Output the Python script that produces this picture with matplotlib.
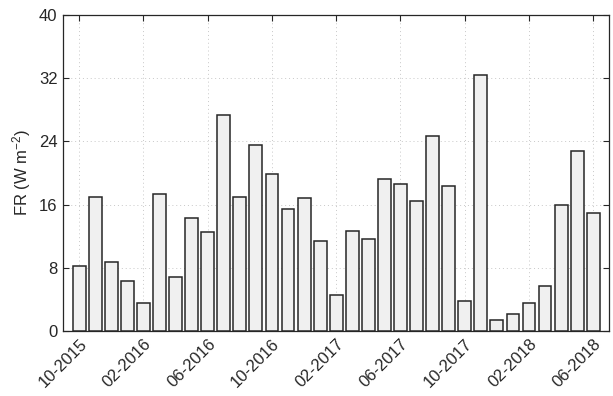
import numpy as np
import matplotlib.pyplot as plt

plt.rcParams['font.family'] = ['Liberation Sans', 'DejaVu Sans']
plt.rcParams['mathtext.fontset'] = 'custom'
plt.rcParams['mathtext.rm'] = 'Liberation Sans'

## the data (monthly, 10-2015 .. 06-2018)
fr_values = [8.2, 17.0, 8.8, 6.3, 3.5, 17.4, 6.8, 14.3, 12.5, 27.3,
             17.0, 23.5, 19.9, 15.4, 16.9, 11.4, 4.6, 12.7, 11.6, 19.2,
             18.6, 16.5, 24.7, 18.4, 3.8, 32.4, 1.35, 2.15, 3.5, 5.7,
             16.0, 22.8, 14.9]
tick_labels = ['10-2015', '02-2016', '06-2016', '10-2016', '02-2017',
               '06-2017', '10-2017', '02-2018', '06-2018']
tick_step = 4   # one label every 4 months

ind = np.arange(len(fr_values))

fig = plt.figure(figsize=(6.13, 3.96), dpi=100)
ax = fig.add_axes([0.103, 0.164, 0.891, 0.798])

ax.bar(ind, fr_values, 0.8, color='#f0f0f0', edgecolor='#262626',
       linewidth=1.1, zorder=3)

# axes and labels
ax.set_xlim(-1, len(ind))
ax.set_ylim(0, 40)
ax.set_yticks(np.arange(0, 41, 8))
ax.set_xticks(ind[::tick_step])
ax.set_xticklabels(tick_labels, rotation=45, ha='right',
                   rotation_mode='anchor')
ax.set_ylabel('FR (W m$\\mathregular{^{-2}}$)', fontsize=12, color='#262626')

ax.tick_params(direction='in', length=4, width=0.8, top=True, right=True,
               labelsize=12, colors='#262626', pad=4)
for s in ax.spines.values():
    s.set_color('#262626')
    s.set_linewidth(0.9)
ax.grid(True, linestyle=(0, (1, 3)), color='#c8c8c8', linewidth=0.7,
        zorder=0)

fig.savefig('out.png', dpi=100)
